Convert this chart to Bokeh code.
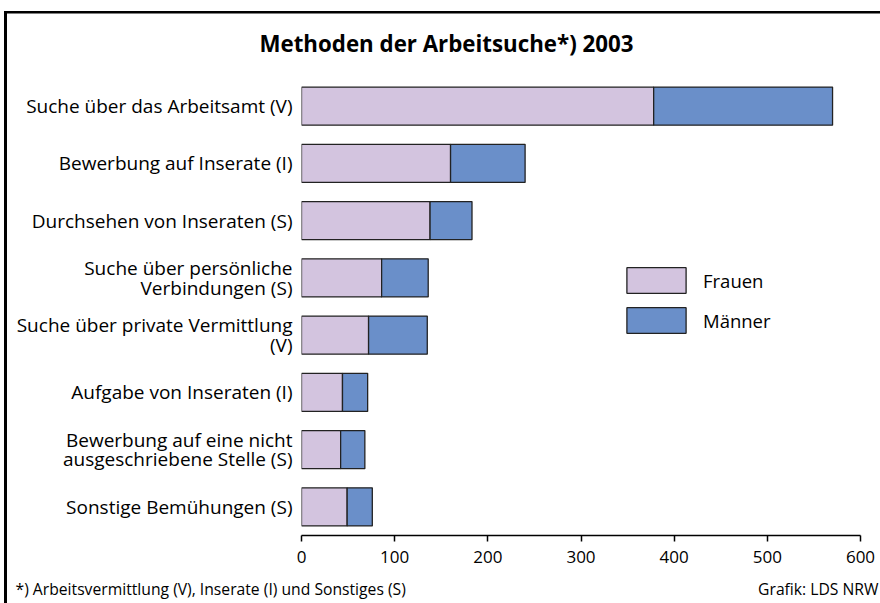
from bokeh.plotting import figure
from bokeh.models import (ColumnDataSource, FactorRange, Range1d, FixedTicker,
                          Label, Legend, LegendItem)
from bokeh.embed import file_html
from bokeh.resources import INLINE

categories = [
    "Suche über das Arbeitsamt (V)",
    "Bewerbung auf Inserate (I)",
    "Durchsehen von Inseraten (S)",
    "Suche über persönliche\nVerbindungen (S)",
    "Suche über private Vermittlung\n(V)",
    "Aufgabe von Inseraten (I)",
    "Bewerbung auf eine nicht\nausgeschriebene Stelle (S)",
    "Sonstige Bemühungen (S)",
]
frauen = [378, 160, 138, 86, 72, 44, 42, 49]
maenner = [192, 80, 45, 50, 63, 27, 26, 27]
x_ticks = [0, 100, 200, 300, 400, 500, 600]

title_text = "Methoden der Arbeitsuche*) 2003"
footnote = "*) Arbeitsvermittlung (V), Inserate (I) und Sonstiges (S)"
source_text = "Grafik: LDS NRW"

FONT = "Open Sans"
C_F = "#d3c4df"
C_M = "#6a8fc9"

W, H = 880, 603
FL, FR = 301, 860      # frame left/right (canvas px)
FT, FB = 77, 535       # frame top/bottom
XPX = (FR - FL) / 600.0            # px per x unit
YPX = (FB - FT) / len(categories)  # px per category


def px_to_x(px):
    return (px - FL) / XPX


def px_to_y(py):
    return (FB - py) / YPX


src = ColumnDataSource(dict(cat=categories, Frauen=frauen, Maenner=maenner))

p = figure(width=W, height=H, output_backend="svg", toolbar_location=None,
           title=None,
           y_range=FactorRange(factors=list(reversed(categories))),
           x_range=Range1d(0, 600),
           min_border_left=FL, min_border_right=W - FR,
           min_border_top=FT, min_border_bottom=H - FB)
p.outline_line_color = None
p.grid.visible = False
p.background_fill_color = None
p.border_fill_color = None
# outer frame of the graphic: top and left edge
p.styles = {"background": ("linear-gradient(#000,#000) 4px 11px / 100% 2.5px no-repeat, "
                           "linear-gradient(#000,#000) 4px 11px / 3px 100% no-repeat, #fff")}

rs = p.hbar_stack(["Frauen", "Maenner"], y="cat", height=0.665, source=src,
                  fill_color=[C_F, C_M], line_color="#222222", line_width=1.3)

# axes
xa = p.xaxis[0]
xa.ticker = FixedTicker(ticks=x_ticks)
xa.axis_line_color = "black"
xa.axis_line_width = 1.5
xa.major_tick_line_color = "black"
xa.major_tick_line_width = 1.5
xa.major_tick_out = 6
xa.major_tick_in = 0
xa.minor_tick_line_color = None
xa.major_label_text_font = FONT
xa.major_label_text_font_size = "17px"
xa.major_label_text_color = "black"
xa.major_label_standoff = 9

ya = p.yaxis[0]
ya.axis_line_color = None
ya.major_tick_line_color = None
ya.minor_tick_line_color = None
ya.major_tick_out = 0
ya.major_label_standoff = 9
ya.major_label_text_font = FONT
ya.major_label_text_font_size = "19px"
ya.major_label_text_line_height = 0.75
ya.major_label_text_color = "black"
ya.major_label_text_align = "right"

# legend
legend = Legend(items=[LegendItem(label="Frauen", renderers=[rs[0]]),
                       LegendItem(label="Männer", renderers=[rs[1]])],
                location=(318, 199), orientation="vertical",
                glyph_width=74, glyph_height=32, spacing=8,
                label_standoff=10, padding=0, margin=0,
                border_line_color=None, background_fill_alpha=0,
                label_text_font=FONT, label_text_font_size="18.5px",
                label_text_color="black")
p.add_layout(legend, "center")

# title and footnotes (placed in a side panel so they are not clipped to the frame)
p.add_layout(Label(x=px_to_x(446), y=px_to_y(43), text=title_text,
                   text_font=FONT, text_font_style="bold", text_font_size="22.3px",
                   text_align="center", text_baseline="middle", text_color="black"),
             "above")
p.add_layout(Label(x=px_to_x(15), y=px_to_y(588), text=footnote,
                   text_font=FONT, text_font_size="15.7px",
                   text_align="left", text_baseline="middle", text_color="black"),
             "above")
p.add_layout(Label(x=px_to_x(878), y=px_to_y(588), text=source_text,
                   text_font=FONT, text_font_size="15.7px",
                   text_align="right", text_baseline="middle", text_color="black"),
             "above")

open("out.html", "w").write(file_html(p, INLINE))
